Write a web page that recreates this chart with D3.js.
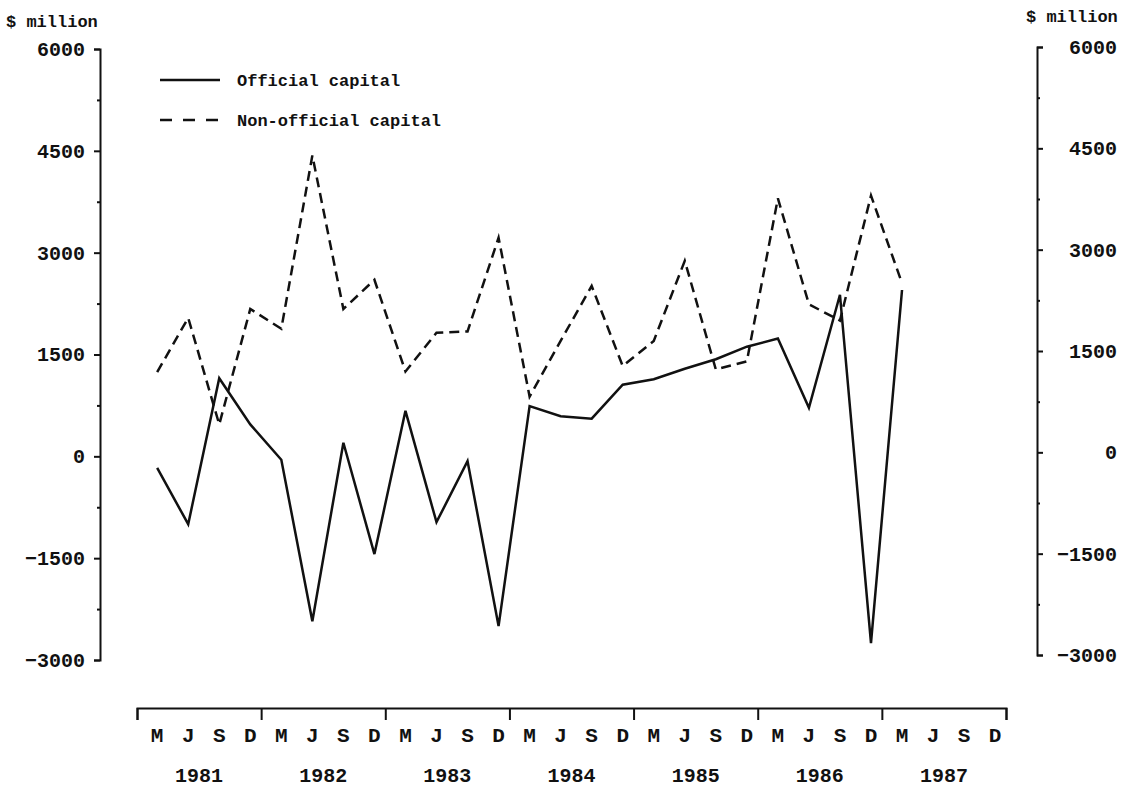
<!DOCTYPE html>
<html>
<head>
<meta charset="utf-8">
<script src="https://cdn.jsdelivr.net/npm/d3@7"></script>
<style>
  body { margin: 0; background: #fff; }
  text { font-family: "Liberation Mono", "DejaVu Sans Mono", monospace; font-weight: bold; fill: #111; }
</style>
</head>
<body>
<div id="chart"></div>
<script>
// quarterly values, $ million, Mar 1981 .. Mar 1987
const quarters = ["M", "J", "S", "D"];
const years = [1981, 1982, 1983, 1984, 1985, 1986, 1987];
const yTicks = [-3000, -1500, 0, 1500, 3000, 4500, 6000];
const official = [-170, -1000, 1150, 470, -50, -2430, 200, -1440, 670, -970, -70, -2500,
  740, 590, 555, 1055, 1135, 1290, 1430, 1615, 1735, 715, 2380, -2750, 2450];
const nonOfficial = [1240, 2040, 470, 2170, 1880, 4430, 2170, 2600, 1250, 1820, 1840, 3220,
  880, 1700, 2510, 1330, 1700, 2880, 1280, 1400, 3800, 2240, 2000, 3840, 2550];

function init() {
  const width = 1125, height = 787;

  const svg = d3.select("#chart").append("svg")
    .attr("width", width)
    .attr("height", height);

  // quarter index scale, year brackets start a bit before each "M"
  const x = d3.scaleLinear().domain([-0.65, 27.35]).range([137, 1006]);
  const y = d3.scaleLinear().domain([-3000, 6000]).range([660, 49]);
  const yRight = d3.scaleLinear().domain([-3000, 6000]).range([655, 47]);

  const minor = d3.range(-2250, 6000, 1500);
  const fmt = d => d < 0 ? "\u2212" + Math.abs(d) : d;

  // left axis
  const left = svg.append("g").attr("transform", "translate(100,0)");
  left.call(d3.axisLeft(y).tickValues(yTicks).tickSize(6).tickPadding(9).tickFormat(fmt));
  left.append("g").call(d3.axisLeft(y).tickValues(minor).tickSize(3).tickFormat(""))
    .select(".domain").remove();

  // right axis, labels flush right
  const right = svg.append("g").attr("transform", "translate(1037,0)");
  right.call(d3.axisRight(yRight).tickValues(yTicks).tickSize(6).tickFormat(fmt));
  right.selectAll(".tick text").attr("x", 80).attr("text-anchor", "end");
  right.append("g").call(d3.axisRight(yRight).tickValues(minor).tickSize(3).tickFormat(""))
    .select(".domain").remove();

  svg.selectAll(".tick text").style("font-size", "20px");
  svg.selectAll(".domain, .tick line").attr("stroke", "#111").attr("stroke-width", 2);

  svg.append("text").attr("x", 6).attr("y", 27).style("font-size", "17px").text("$ million");
  svg.append("text").attr("x", 1026).attr("y", 22).style("font-size", "17px").text("$ million");

  // bottom axis: year brackets
  const bounds = d3.range(years.length + 1).map(k => 4 * k - 0.65);
  const bottom = svg.append("g").attr("transform", "translate(0,708)");
  bottom.call(d3.axisBottom(x).tickValues(bounds).tickSize(12).tickFormat(""));
  bottom.selectAll(".domain, .tick line").attr("stroke", "#111").attr("stroke-width", 2);

  svg.append("g").selectAll("text")
    .data(d3.range(years.length * 4))
    .join("text")
    .attr("x", d => x(d))
    .attr("y", 735)
    .attr("dy", "0.35em")
    .attr("text-anchor", "middle")
    .style("font-size", "21px")
    .text(d => quarters[d % 4]);

  svg.append("g").selectAll("text")
    .data(years)
    .join("text")
    .attr("x", (d, i) => x(4 * i + 1.35))
    .attr("y", 775)
    .attr("dy", "0.35em")
    .attr("text-anchor", "middle")
    .style("font-size", "20px")
    .text(d => d);

  // lines
  const line = d3.line()
    .x((d, i) => x(i))
    .y(d => y(d));

  svg.append("path")
    .datum(nonOfficial)
    .attr("d", line)
    .attr("fill", "none")
    .attr("stroke", "#111")
    .attr("stroke-width", 2.5)
    .attr("stroke-dasharray", "10,6");

  svg.append("path")
    .datum(official)
    .attr("d", line)
    .attr("fill", "none")
    .attr("stroke", "#111")
    .attr("stroke-width", 2.5);

  // legend
  const legend = svg.append("g");
  const items = [
    { label: "Official capital", dash: null, y: 80 },
    { label: "Non-official capital", dash: "12,11", y: 120 }
  ];
  items.forEach(it => {
    legend.append("line")
      .attr("x1", 160).attr("x2", 220)
      .attr("y1", it.y).attr("y2", it.y)
      .attr("stroke", "#111")
      .attr("stroke-width", 2.5)
      .attr("stroke-dasharray", it.dash);
    legend.append("text")
      .attr("x", 237).attr("y", it.y)
      .attr("dy", "0.35em")
      .style("font-size", "17px")
      .text(it.label);
  });
}
init();
</script>
</body>
</html>
